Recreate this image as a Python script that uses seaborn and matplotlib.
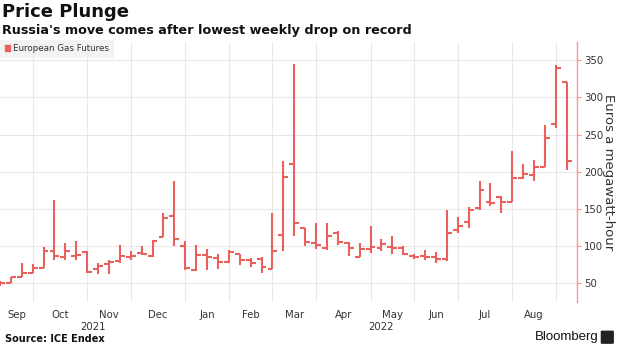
import matplotlib
matplotlib.use("Agg")
import matplotlib.pyplot as plt
from matplotlib import font_manager
from matplotlib.patches import Patch, FancyBboxPatch
from matplotlib.transforms import blended_transform_factory
import seaborn as sns
import numpy as np
import pandas as pd

# ---- data (weekly OHLC, EUR/MWh) ----
weeks = pd.date_range("2021-09-10", periods=53, freq="W-FRI")
opens = [48, 51, 58, 64, 70, 94, 86, 87, 92, 69, 76, 80, 86, 91, 87, 112, 141, 100,
         68, 88, 84, 79, 90, 81, 83, 69, 115, 210, 124, 104, 97, 118, 104, 86, 96, 97,
         99, 98, 87, 87, 85, 83, 122, 133, 151, 160, 166, 159, 191, 195, 207, 264, 321]
highs = [53, 58, 78, 76, 99, 162, 104, 107, 93, 78, 81, 101, 94, 100, 108, 145, 187, 107,
         101, 96, 90, 95, 90, 84, 86, 144, 214, 345, 124, 131, 131, 120, 105, 104, 127, 110,
         114, 100, 90, 95, 92, 149, 139, 153, 187, 185, 167, 228, 210, 216, 263, 343, 321]
lows = [47, 50, 58, 64, 70, 81, 81, 81, 64, 62, 63, 78, 82, 88, 86, 112, 100, 68,
        67, 68, 69, 78, 75, 72, 64, 69, 94, 113, 100, 96, 95, 102, 87, 85, 91, 93,
        90, 88, 83, 82, 78, 80, 118, 125, 149, 154, 145, 159, 190, 188, 207, 259, 203]
closes = [51, 58, 64, 70, 94, 87, 94, 88, 65, 74, 79, 87, 87, 90, 107, 138, 110, 70,
          88, 86, 79, 92, 82, 78, 72, 94, 193, 131, 105, 101, 113, 105, 97, 96, 99, 103,
          97, 89, 86, 86, 83, 118, 127, 148, 176, 158, 160, 192, 197, 207, 245, 340, 215]
month_labels = ["Sep", "Oct", "Nov", "Dec", "Jan", "Feb", "Mar", "Apr", "May", "Jun", "Jul", "Aug"]
year_labels = ["2021", "2022"]
y_ticks = [50, 100, 150, 200, 250, 300, 350]
series_name = "European Gas Futures"

RED = "#E9605C"
SPINE = "#F19A98"
GRID = "#E8E8E8"
TXT = "#333333"

sns.set_theme(style="white")
plt.rcParams["font.family"] = ["DejaVu Sans"]

available = {f.name for f in font_manager.fontManager.ttflist}
NARROW = "Liberation Sans Narrow" if "Liberation Sans Narrow" in available else "DejaVu Sans"
narrow_size = 8.5 if NARROW != "DejaVu Sans" else 7.3
BRAND = "Liberation Sans" if "Liberation Sans" in available else "DejaVu Sans"

df = pd.DataFrame({"week": weeks, "open": opens, "high": highs, "low": lows, "close": closes})
df["i"] = np.arange(len(df))

fig = plt.figure(figsize=(6.2, 3.48), dpi=100)
ax = fig.add_axes([0.0, 0.132, 0.9306, 0.747])

XMAX = len(df) - 0.06
ax.set_xlim(0, XMAX)
ax.set_ylim(24.9, 374.2)

# OHLC bars
half = 0.45
ax.vlines(df["i"], df["low"], df["high"], color=RED, lw=1.5, zorder=3)
ax.hlines(df["open"], df["i"] - half, df["i"], color=RED, lw=1.5, zorder=3)
ax.hlines(df["close"], df["i"], df["i"] + half, color=RED, lw=1.5, zorder=3)

# month structure derived from the weekly dates
months = df["week"].dt.to_period("M")
starts = [i for i in range(1, len(df)) if months.iloc[i] != months.iloc[i - 1]]
bounds = [0] + starts + [XMAX]
centers = [(bounds[k] + bounds[k + 1]) / 2 for k in range(len(month_labels))]

ax.set_xticks(centers, month_labels)
ax.set_xticks(starts, minor=True)
ax.grid(which="minor", axis="x", color=GRID, lw=0.8)
ax.grid(which="major", axis="y", color=GRID, lw=0.8)
ax.tick_params(axis="x", which="both", length=0, labelsize=narrow_size, colors=TXT, pad=6)
for lab in ax.get_xticklabels():
    lab.set_fontfamily(NARROW)

years = df["week"].dt.year
jan = [i for i in range(1, len(df)) if years.iloc[i] != years.iloc[i - 1]][0]
ycent = [(0 + jan) / 2, (jan + XMAX) / 2]
trans = blended_transform_factory(ax.transData, ax.transAxes)
for yl, xc in zip(year_labels, ycent):
    ax.text(xc, -0.095, yl, transform=trans, ha="center", va="center", fontsize=narrow_size,
            color=TXT, family=NARROW)

ax.yaxis.tick_right()
ax.set_yticks(y_ticks)
ax.tick_params(axis="y", length=3, width=0.8, color=SPINE, labelsize=narrow_size, labelcolor=TXT, pad=2)
for lab in ax.get_yticklabels():
    lab.set_fontfamily(NARROW)
for s in ["left", "top", "bottom"]:
    ax.spines[s].set_visible(False)
ax.spines["right"].set_color(SPINE)
ax.spines["right"].set_linewidth(1.0)

fig.text(0.982, 1 - 172 / 348, "Euros a megawatt-hour", rotation=270, ha="center", va="center",
         fontsize=9.5, color=TXT)

leg = ax.legend(handles=[Patch(color=RED, label=series_name)], loc="upper left",
                bbox_to_anchor=(0, 1.01), frameon=True, fontsize=6.3, handlelength=0.6,
                handleheight=0.6, handletextpad=0.35, borderpad=0.55, borderaxespad=0.0)
leg.get_frame().set_facecolor("#F0F0F0")
leg.get_frame().set_edgecolor("none")
leg.get_frame().set_boxstyle("square", pad=0)
for t in leg.get_texts():
    t.set_color(TXT)

fig.text(0.003, 0.992, "Price Plunge", fontsize=13, weight="bold", va="top", color="#111111")
fig.text(0.003, 0.93, "Russia's move comes after lowest weekly drop on record", fontsize=9.2,
         weight="bold", va="top", color="#111111")
fig.text(0.008, 0.012, "Source: ICE Endex", fontsize=7, weight="bold", va="bottom", color="#111111")
fig.text(0.966, 0.014, "Bloomberg", fontsize=9.5, va="bottom", ha="right", color="#111111",
         family=BRAND)
icon = FancyBboxPatch((0.971, 0.015), 0.017, 0.032, boxstyle="round,pad=0.001",
                      transform=fig.transFigure, color="#222222")
fig.patches.append(icon)

fig.savefig("out.png", dpi=100)
